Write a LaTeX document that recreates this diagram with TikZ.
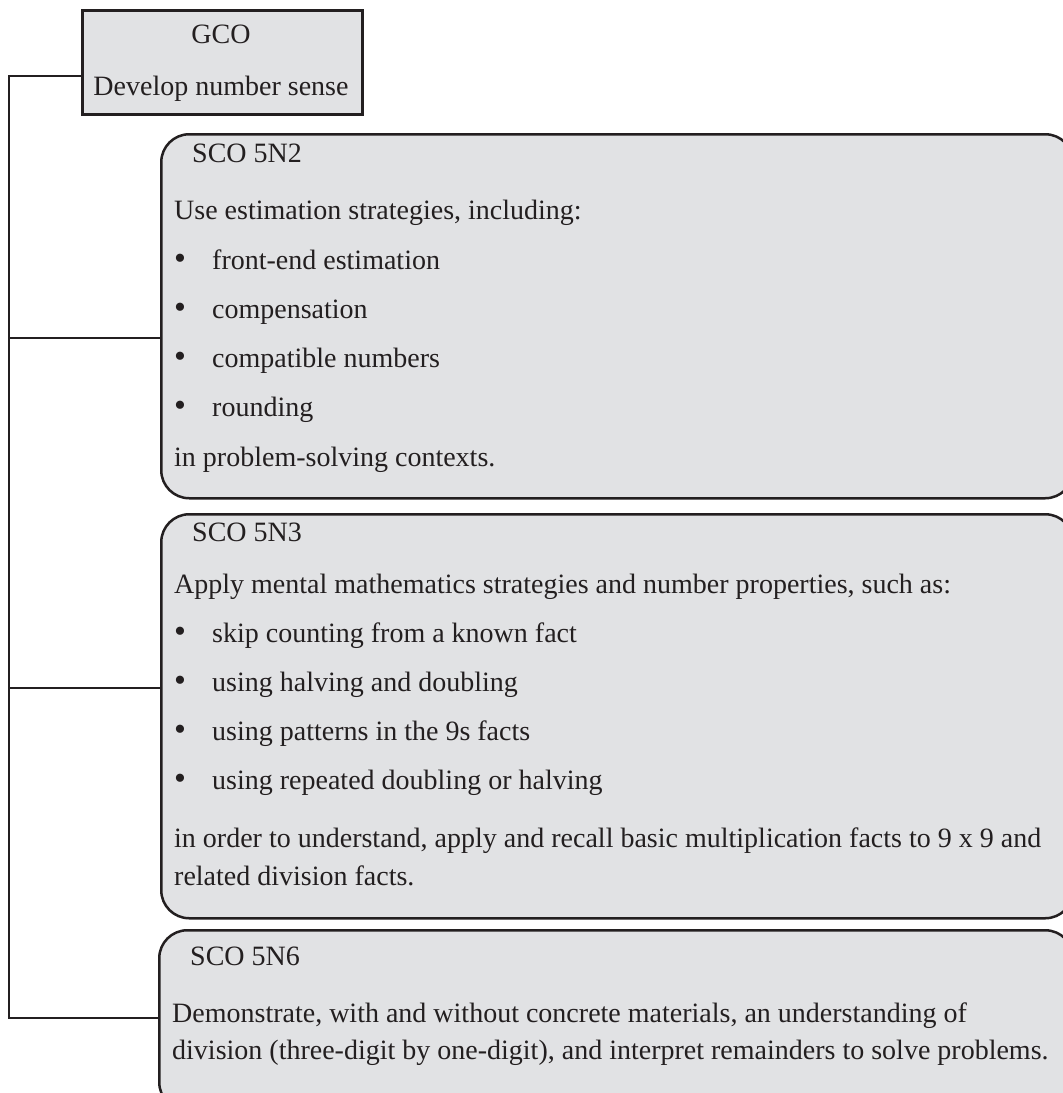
\documentclass[tikz,border=0pt]{standalone}
\usepackage{fontspec}
\setmainfont{Liberation Serif}
\definecolor{boxgray}{HTML}{E1E2E4}
\definecolor{ink}{HTML}{231F20}

\begin{document}
\begin{tikzpicture}[x=1pt,y=-1pt,
    every node/.style={font=\fontsize{28}{33}\selectfont, text=ink, inner sep=0pt},
    gcobox/.style={draw=ink, line width=2.5pt, fill=boxgray, anchor=north west},
    scobox/.style={gcobox, rounded corners=28pt},
    gcotxt/.style={anchor=base},
    txt/.style={anchor=base west},
    dot/.style={anchor=base west, font=\fontsize{34}{33}\selectfont},
    link/.style={draw=ink, line width=2.5pt}]
                \useasboundingbox (0,0) rectangle (1063,1093);
                \clip (0,0) rectangle (1063,1093);

                % boxes
                \node[gcobox, minimum width=280pt, minimum height=104pt] (gco) at (81,9) {};
                \node[scobox, minimum width=912pt, minimum height=364pt] (s2) at (160,133) {};
                \node[scobox, minimum width=912pt, minimum height=404pt] (s3) at (160,513) {};
                \node[scobox, minimum width=914pt, minimum height=180pt] (s6) at (158,929) {};

                \node[gcotxt] (gcot) at (221,43) {GCO};
                \node[gcotxt] (gcod) at (221,95) {Develop number sense};

                % SCO 5N2
                \node[txt] (t2) at (192,162) {SCO 5N2};
                \node[txt] (u2) at (174,219) {Use estimation strategies, including:};
                \node[dot] (b2a) at (174,269) {\textbullet};
                \node[txt] (i2a) at (212,269) {front-end estimation};
                \node[dot] (b2b) at (174,318) {\textbullet};
                \node[txt] (i2b) at (212,318) {compensation};
                \node[dot] (b2c) at (174,367) {\textbullet};
                \node[txt] (i2c) at (212,367) {compatible numbers};
                \node[dot] (b2d) at (174,416) {\textbullet};
                \node[txt] (i2d) at (212,416) {rounding};
                \node[txt] (e2) at (174,466) {in problem-solving contexts.};

                % SCO 5N3
                \node[txt] (t3) at (192,541) {SCO 5N3};
                \node[txt] (u3) at (174,593) {Apply mental mathematics strategies and number properties, such as:};
                \node[dot] (b3a) at (174,642) {\textbullet};
                \node[txt] (i3a) at (212,642) {skip counting from a known fact};
                \node[dot] (b3b) at (174,691) {\textbullet};
                \node[txt] (i3b) at (212,691) {using halving and doubling};
                \node[dot] (b3c) at (174,740) {\textbullet};
                \node[txt] (i3c) at (212,740) {using patterns in the 9s facts};
                \node[dot] (b3d) at (174,789) {\textbullet};
                \node[txt] (i3d) at (212,789) {using repeated doubling or halving};
                \node[txt] (e3a) at (174,847) {in order to understand, apply and recall basic multiplication facts to 9 x 9 and};
                \node[txt] (e3b) at (174,885) {related division facts.};

                % SCO 5N6
                \node[txt] (t6) at (190,965) {SCO 5N6};
                \node[txt] (u6a) at (172,1022) {Demonstrate, with and without concrete materials, an understanding of};
                \node[txt] (u6b) at (172,1059) {division (three-digit by one-digit), and interpret remainders to solve problems.};

                % tree lines
                \coordinate (j0) at (9,76);
                \coordinate (j2) at (9,338);
                \coordinate (j3) at (9,688);
                \coordinate (j6) at (9,1018);
                \draw[link] (gco.west |- j0) -- (j0) -- (j6) -- (s6.west |- j6);
                \draw[link] (j2) -- (s2.west |- j2);
                \draw[link] (j3) -- (s3.west |- j3);
            \end{tikzpicture}
\end{document}
